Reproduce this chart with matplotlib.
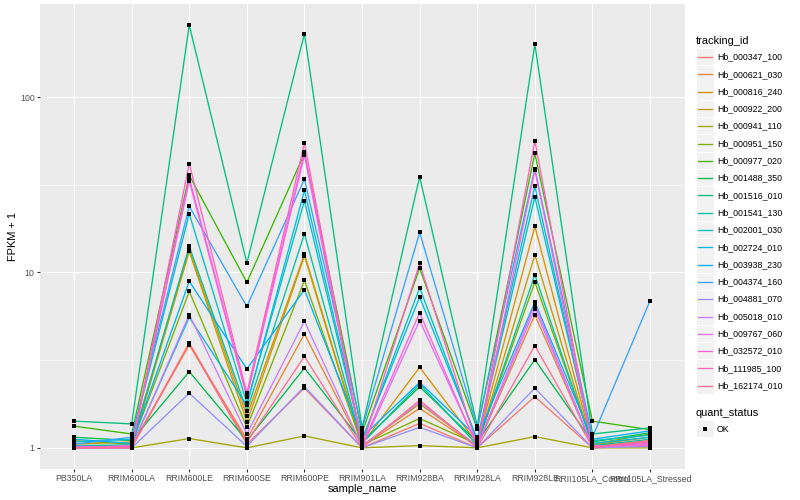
import numpy as np
import matplotlib
matplotlib.use("Agg")
import matplotlib.pyplot as plt
from matplotlib.patches import Rectangle

# sample names on the x axis
samples = ["PB350LA", "RRIM600LA", "RRIM600LE", "RRIM600SE", "RRIM600PE",
           "RRIM901LA", "RRIM928BA", "RRIM928LA", "RRIM928LE",
           "RRII105LA_Control", "RRII105LA_Stressed"]

tracking_ids = ["Hb_000347_100", "Hb_000621_030", "Hb_000816_240", "Hb_000922_200",
                "Hb_000941_110", "Hb_000951_150", "Hb_000977_020", "Hb_001488_350",
                "Hb_001516_010", "Hb_001541_130", "Hb_002001_030", "Hb_002724_010",
                "Hb_003938_230", "Hb_004374_160", "Hb_004881_070", "Hb_005018_010",
                "Hb_009767_060", "Hb_032572_010", "Hb_111985_100", "Hb_162174_010"]

# FPKM + 1 per sample, in tracking_id order
pb350la   = [1.00, 1.02, 1.05, 1.00, 1.00, 1.10, 1.33, 1.15, 1.42, 1.03,
             1.08, 1.00, 1.12, 1.05, 1.00, 1.02, 1.00, 1.01, 1.00, 1.00]
rrim600la = [1.00, 1.03, 1.08, 1.02, 1.00, 1.05, 1.20, 1.10, 1.37, 1.04,
             1.12, 1.02, 1.06, 1.15, 1.00, 1.01, 1.03, 1.02, 1.00, 1.01]
rrim600le = [3.90, 3.86, 13.5, 13.2, 1.13, 7.80, 35.8, 2.72, 257.0, 14.1,
             21.6, 5.55, 8.90, 23.8, 2.05, 5.75, 33.1, 34.6, 41.7, 3.97]
rrim600se = [1.05, 1.12, 1.52, 1.40, 1.00, 1.31, 8.77, 1.10, 11.3, 1.63,
             1.80, 1.75, 2.82, 6.40, 1.02, 1.20, 1.95, 2.00, 2.05, 1.08]
rrim600pe = [2.19, 4.46, 12.7, 12.4, 1.17, 9.00, 47.7, 2.85, 230.0, 16.6,
             25.6, 29.4, 7.96, 34.0, 2.24, 5.27, 46.6, 48.7, 54.8, 3.32]
rrim901la = [1.00, 1.02, 1.05, 1.03, 1.00, 1.04, 1.22, 1.08, 1.30, 1.06,
             1.10, 1.12, 1.15, 1.28, 1.00, 1.02, 1.01, 1.03, 1.02, 1.00]
rrim928ba = [1.38, 1.68, 2.88, 1.78, 1.03, 1.47, 10.6, 2.23, 35.1, 2.31,
             8.18, 7.22, 2.36, 16.9, 1.31, 1.82, 5.32, 5.89, 11.3, 1.87]
rrim928la = [1.00, 1.02, 1.06, 1.03, 1.00, 1.05, 1.28, 1.08, 1.33, 1.04,
             1.10, 1.12, 1.15, 1.30, 1.00, 1.02, 1.03, 1.01, 1.02, 1.00]
rrim928le = [1.96, 5.73, 18.3, 12.6, 1.16, 8.80, 47.7, 3.18, 200.0, 9.70,
             26.9, 31.1, 6.77, 39.1, 2.19, 6.20, 6.56, 38.3, 56.3, 3.83]
rrii105la_control = [1.00, 1.02, 1.04, 1.02, 1.00, 1.05, 1.42, 1.08, 1.20, 1.03,
                     1.10, 1.06, 1.12, 1.15, 1.00, 1.01, 1.02, 1.03, 1.00, 1.01]
rrii105la_stressed = [1.05, 1.10, 1.15, 1.08, 1.00, 1.20, 1.27, 1.22, 1.30, 1.12,
                      1.18, 1.15, 1.25, 6.90, 1.02, 1.04, 1.06, 1.03, 1.08, 1.10]

fpkm = np.array([pb350la, rrim600la, rrim600le, rrim600se, rrim600pe, rrim901la,
                 rrim928ba, rrim928la, rrim928le, rrii105la_control,
                 rrii105la_stressed]).T

# ggplot hue palette for 20 levels
colors = ["#F8766D", "#EA8331", "#D89000", "#C09B00", "#A3A500", "#7CAE00",
          "#39B600", "#00BB4E", "#00BF7D", "#00C1A3", "#00BFC4", "#00BAE0",
          "#00B0F6", "#35A2FF", "#9590FF", "#C77CFF", "#E76BF3", "#FA62DB",
          "#FF62BC", "#FF6C91"]

plt.rcParams['font.family'] = ['Liberation Sans', 'DejaVu Sans']

W, H = 800, 500
fig = plt.figure(figsize=(8, 5), dpi=100)
px = 72.0 / 100  # points per pixel

left, right, top, bottom = 39.5, 684.6, 4.0, 469.0
ax = fig.add_axes([left / W, 1 - bottom / H, (right - left) / W, (bottom - top) / H])
ax.set_facecolor("#EBEBEB")

x = np.arange(len(samples))
for i, tid in enumerate(tracking_ids):
    ax.plot(x, fpkm[i], color=colors[i], lw=1.3 * px, zorder=3)
for i in range(len(tracking_ids)):
    ax.plot(x, fpkm[i], ls="none", marker="s", ms=3.6 * px, mew=0,
            color="black", zorder=4)

ax.set_yscale("log")
lo, hi = np.log10(fpkm.min()), np.log10(fpkm.max())
pad = (hi - lo) * 0.05
ax.set_ylim(10 ** (lo - pad), 10 ** (hi + pad))
ax.set_xlim(-0.6, len(samples) - 1 + 0.6)

ax.set_yticks([1, 10, 100])
ax.set_yticklabels(["1", "10", "100"])
ax.set_yticks([10 ** 0.5, 10 ** 1.5], minor=True)
ax.yaxis.set_minor_formatter(plt.NullFormatter())
ax.set_xticks(x)
ax.set_xticklabels(samples)

ax.grid(True, which="major", color="white", lw=1.07 * px, zorder=1)
ax.grid(True, which="minor", axis="y", color="white", lw=0.55 * px, zorder=1)
ax.set_axisbelow(True)
for s in ax.spines.values():
    s.set_visible(False)
ax.tick_params(axis="both", which="major", length=2.75 * px,
               width=1.07 * px, color="#333333", labelcolor="#4D4D4D",
               labelsize=8.8 * px, pad=2.2 * px)
ax.tick_params(axis="y", which="minor", length=0)

ax.set_xlabel("sample_name", fontsize=11 * px, labelpad=1)
ax.set_ylabel("FPKM + 1", fontsize=11 * px, labelpad=1.5)

# legend drawn in pixel coordinates
lg = fig.add_axes([0, 0, 1, 1], facecolor="none")
lg.set_xlim(0, W)
lg.set_ylim(H, 0)
lg.axis("off")

lg.text(696, 40.5, "tracking_id", fontsize=11 * px, va="center", ha="left")
y0, dy = 57.0, 17.3
for i, tid in enumerate(tracking_ids):
    yc = y0 + i * dy
    lg.add_patch(Rectangle((696.5, yc - 8.3), 17, 16.6, facecolor="#F2F2F2",
                           edgecolor="none"))
    lg.plot([698, 712], [yc, yc], color=colors[i], lw=1.3 * px)
    lg.text(717, yc, tid, fontsize=8.8 * px, va="center", ha="left")

lg.text(696, 412.5, "quant_status", fontsize=11 * px, va="center", ha="left")
lg.add_patch(Rectangle((696.5, 429 - 8.3), 17, 16.6, facecolor="#F2F2F2",
                       edgecolor="none"))
lg.plot([705], [429], ls="none", marker="s", ms=3.6 * px, mew=0, color="black")
lg.text(717, 429, "OK", fontsize=8.8 * px, va="center", ha="left")

fig.savefig("out.png", dpi=100)
